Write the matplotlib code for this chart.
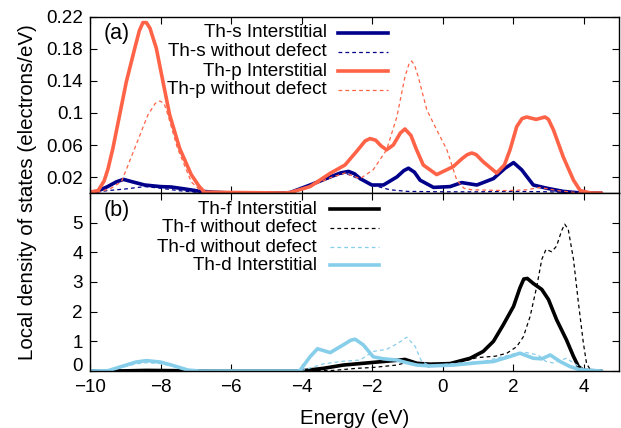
import matplotlib
matplotlib.use("Agg")
import matplotlib.pyplot as plt
from matplotlib.lines import Line2D

plt.rcParams['font.family'] = ['Liberation Sans', 'DejaVu Sans']

# ---- Top panel (a) data ----
ths_int_E = [-10, -9.8, -9.5, -9.25, -9.05, -8.8, -8.45, -8.0, -7.7, -7.3, -6.94, -6.5, -6.0, -4.5, -4.33,
             -3.76, -3.19, -2.9, -2.67, -2.5, -2.34, -2.01, -1.68, -1.3, -1.1, -0.97, -0.8, -0.64, -0.26,
             0.21, 0.54, 0.97, 1.44, 1.77, 2.01, 2.24, 2.57, 2.95, 3.42, 3.9, 4.5]
ths_int_V = [0.001, 0.002, 0.008, 0.014, 0.017, 0.014, 0.010, 0.008, 0.0075, 0.005, 0.0025, 0.001, 0.0, 0.0,
             0.0005, 0.01, 0.02, 0.025, 0.027, 0.024, 0.018, 0.01, 0.01, 0.02, 0.028, 0.031, 0.026, 0.016,
             0.007, 0.008, 0.013, 0.01, 0.018, 0.031, 0.038, 0.029, 0.01, 0.006, 0.002, 0.0, 0.0]

ths_nodef_E = [-10, -9.5, -9.0, -8.45, -8.0, -7.5, -7.0, -6.7, -4.5, -4.3, -3.76, -3.19, -2.77, -2.5,
               -2.01, -1.49, -1.0, 0, 1, 2, 3, 4, 4.5]
ths_nodef_V = [0, 0.003, 0.005, 0.008, 0.006, 0.003, 0.001, 0, 0, 0.0005, 0.009, 0.019, 0.025, 0.02,
               0.01, 0.004, 0.002, 0.0015, 0.0015, 0.002, 0.0015, 0, 0]

thp_int_E = [-10, -9.77, -9.6, -9.49, -9.35, -9.16, -8.97, -8.73, -8.6, -8.5, -8.4, -8.3, -8.12, -7.93,
             -7.74, -7.46, -7.13, -6.9, -6.75, -4.5, -4.33, -3.76, -3.19, -2.77, -2.44, -2.2, -2.06, -1.9,
             -1.75, -1.59, -1.4, -1.2, -1.07, -0.9, -0.75, -0.55, -0.17, 0.3, 0.55, 0.7, 0.825, 0.95,
             1.15, 1.53, 1.75, 1.91, 2.1, 2.25, 2.38, 2.65, 2.9, 3.0, 3.14, 3.42, 3.71, 3.9, 4.2, 4.5]
thp_int_V = [0.001, 0.003, 0.015, 0.03, 0.056, 0.0975, 0.139, 0.181, 0.203, 0.213, 0.213, 0.206, 0.181,
             0.139, 0.0975, 0.056, 0.023, 0.008, 0.001, 0, 0.0005, 0.008, 0.0246, 0.035, 0.052, 0.065,
             0.068, 0.066, 0.059, 0.054, 0.060, 0.075, 0.080, 0.072, 0.055, 0.035, 0.023, 0.033, 0.043,
             0.048, 0.050, 0.048, 0.039, 0.025, 0.035, 0.054, 0.083, 0.093, 0.095, 0.092, 0.095, 0.092,
             0.079, 0.045, 0.016, 0.003, 0.0, 0.0]

thp_nodef_E = [-10, -9.68, -9.4, -9.11, -8.73, -8.36, -8.15, -8.02, -7.9, -7.79, -7.52, -7.13, -6.8, -4.5,
               -4.3, -3.76, -3.19, -2.77, -2.34, -1.97, -1.59, -1.3, -1.07, -0.95, -0.88, -0.8, -0.69,
               -0.45, -0.17, 0.12, 0.40, 0.6, 0.825, 1.83, 2.38, 2.76, 3.25, 3.9, 4.5]
thp_nodef_V = [0, 0.002, 0.006, 0.014, 0.056, 0.0975, 0.112, 0.115, 0.112, 0.0975, 0.056, 0.014, 0.0, 0,
               0.0005, 0.008, 0.019, 0.025, 0.018, 0.029, 0.054, 0.095, 0.145, 0.162, 0.165, 0.160, 0.145,
               0.104, 0.079, 0.054, 0.016, 0.006, 0.004, 0.003, 0.004, 0.007, 0.003, 0, 0]

# ---- Bottom panel (b) data ----
thf_int_E = [-10, -9, -8.4, -7.5, -6.5, -4.04, -3.38, -2.82, -1.97, -1.21, -1.07, -0.73, -0.36, 0.21, 0.78,
             1.15, 1.44, 1.72, 2.01, 2.19, 2.3, 2.4, 2.57, 2.81, 3.0, 3.23, 3.51, 3.71, 3.85, 3.99, 4.5]
thf_int_V = [0, 0.005, 0.02, 0.01, 0, 0, 0.09, 0.2, 0.29, 0.37, 0.39, 0.26, 0.23, 0.25, 0.43, 0.66, 1.0,
             1.56, 2.18, 2.8, 3.1, 3.12, 2.95, 2.75, 2.41, 1.73, 1.05, 0.49, 0.15, 0.02, 0]

thf_nodef_E = [-10, -4.04, -3.1, -2.44, -1.97, -1.3, -1.02, -0.73, -0.36, 0.3, 0.97, 1.5, 1.82, 2.10, 2.29,
               2.48, 2.67, 2.81, 2.93, 3.09, 3.23, 3.37, 3.46, 3.56, 3.71, 3.85, 3.99, 4.08, 4.2, 4.5]
thf_nodef_V = [0, 0, 0.02, 0.09, 0.12, 0.2, 0.29, 0.2, 0.14, 0.23, 0.45, 0.5, 0.6, 0.82, 1.16, 1.84, 2.86,
               3.76, 4.1, 4.02, 4.21, 4.72, 4.95, 4.78, 3.76, 2.29, 0.94, 0.25, 0.02, 0]

thd_nodef_E = [-10, -9.5, -9.1, -8.7, -8.4, -8.0, -7.6, -7.2, -6.9, -4.04, -3.38, -2.82, -2.34, -1.97,
               -1.59, -1.26, -1.02, -0.78, -0.6, -0.36, 0.3, 1.15, 2.1, 2.38, 2.71, 2.93, 3.14, 3.51,
               3.8, 4.04, 4.5]
thd_nodef_V = [0, 0.01, 0.12, 0.24, 0.28, 0.25, 0.15, 0.03, 0, 0, 0.24, 0.33, 0.37, 0.66, 0.73, 0.94,
               1.14, 0.83, 0.33, 0.17, 0.25, 0.32, 0.6, 0.62, 0.54, 0.32, 0.27, 0.43, 0.2, 0.02, 0]

thd_int_E = [-10, -9.49, -9.11, -8.7, -8.4, -8.0, -7.69, -7.22, -6.9, -4.1, -4.04, -3.76, -3.55, -3.19,
             -2.82, -2.6, -2.48, -2.25, -1.97, -1.68, -1.30, -1.02, -0.73, -0.36, 0.3, 1.0, 1.44, 1.91,
             2.19, 2.57, 2.81, 3.05, 3.33, 3.61, 3.9, 4.5]
thd_int_V = [0, 0.01, 0.15, 0.3, 0.35, 0.3, 0.2, 0.03, 0, 0, 0.03, 0.48, 0.75, 0.62, 0.88, 1.04, 1.07,
             0.88, 0.48, 0.41, 0.37, 0.28, 0.2, 0.17, 0.2, 0.28, 0.32, 0.49, 0.6, 0.43, 0.41, 0.54, 0.32,
             0.15, 0.04, 0]

xticks = [-10, -8, -6, -4, -2, 0, 2, 4]
yticks_a = [0.02, 0.06, 0.1, 0.14, 0.18, 0.22]
yticks_a_labels = ["0.02", "0.06", "0.1", "0.14", "0.18", "0.22"]
yticks_b = [0, 1, 2, 3, 4, 5]

NAVY = "#00008B"
ORANGE = "#FF6347"
SKY = "#87CEEB"
BLACK = "#000000"

W, H = 621, 428
fig = plt.figure(figsize=(W / 100, H / 100), dpi=100)
left, right = 90 / W, 619 / W
ax_a = fig.add_axes([left, 1 - 193 / H, right - left, (193 - 17) / H])
ax_b = fig.add_axes([left, 1 - 371 / H, right - left, (371 - 193) / H])

FS = 13.6
thick = 2.6
thin = 0.9
dash = (3, 2.5)
common = dict(solid_joinstyle="round", solid_capstyle="round")

lines_a = [
    ax_a.plot(ths_int_E, ths_int_V, color=NAVY, lw=thick, label="Th-s Interstitial", **common)[0],
    ax_a.plot(ths_nodef_E, ths_nodef_V, color=NAVY, lw=thin, dashes=dash, label="Th-s without defect")[0],
    ax_a.plot(thp_int_E, thp_int_V, color=ORANGE, lw=thick, label="Th-p Interstitial", **common)[0],
    ax_a.plot(thp_nodef_E, thp_nodef_V, color=ORANGE, lw=thin, dashes=dash, label="Th-p without defect")[0],
]
lines_b = [
    ax_b.plot(thf_int_E, thf_int_V, color=BLACK, lw=thick, label="Th-f Interstitial", **common)[0],
    ax_b.plot(thf_nodef_E, thf_nodef_V, color=BLACK, lw=thin, dashes=dash, label="Th-f without defect")[0],
    ax_b.plot(thd_nodef_E, thd_nodef_V, color=SKY, lw=thin, dashes=dash, label="Th-d without defect")[0],
    ax_b.plot(thd_int_E, thd_int_V, color=SKY, lw=thick, label="Th-d Interstitial", **common)[0],
]

for ax in (ax_a, ax_b):
    ax.set_xlim(-10, 5)
    ax.set_xticks(xticks)
    ax.tick_params(direction="in", length=5, width=0.8, top=True, right=True,
                   labelsize=FS, pad=5)
    for s in ax.spines.values():
        s.set_linewidth(1.0)

ax_a.set_ylim(0, 0.22)
ax_a.set_yticks(yticks_a)
ax_a.set_yticklabels(yticks_a_labels)
ax_a.tick_params(labelbottom=False)

ax_b.set_ylim(0, 6)
ax_b.set_yticks(yticks_b)
ax_b.set_xlabel("Energy (eV)", fontsize=14.8, labelpad=9)
ax_b.tick_params(axis="x", pad=6)
for lab in ax_b.get_yticklabels():
    if lab.get_text() == "0":
        lab.set_verticalalignment("baseline")

fig.text(28 / W, 1 - 192 / H, "Local density of states (electrons/eV)", rotation=90,
         ha="center", va="center", fontsize=14.8)

ax_a.text(0.025, 0.905, "(a)", transform=ax_a.transAxes, fontsize=15.5, ha="left", va="center")
ax_b.text(0.025, 0.9, "(b)", transform=ax_b.transAxes, fontsize=15.5, ha="left", va="center")


def key(ax, lines, text_right, h0, h1, rows):
    """gnuplot-style key: right-aligned labels with line samples to their right."""
    for ln, y in zip(lines, rows):
        ax.text(text_right, y, ln.get_label(), transform=ax.transAxes, ha="right",
                va="center", fontsize=FS)
        sample = Line2D([h0, h1], [y, y], transform=ax.transAxes, color=ln.get_color(),
                        lw=ln.get_linewidth(), linestyle=ln.get_linestyle())
        if ln.get_linewidth() < 1.5:
            sample.set_dashes(dash)
        ax.add_line(sample)


key(ax_a, lines_a, (327 - 90) / 529, (338 - 90) / 529, (388 - 90) / 529,
    [1 - (py - 17) / 176 for py in (33, 52, 71, 90)])
key(ax_b, lines_b, (317 - 90) / 529, (330 - 90) / 529, (379 - 90) / 529,
    [1 - (py - 193) / 178 for py in (209, 228, 247, 265)])

fig.savefig("out.png", dpi=100)
